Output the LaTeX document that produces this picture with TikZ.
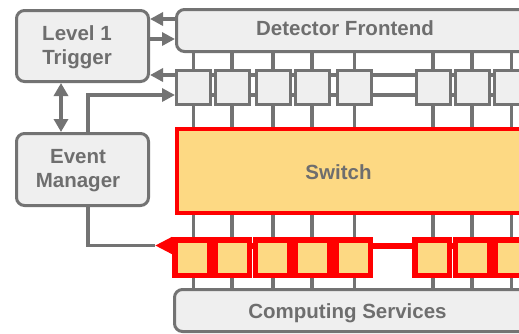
\documentclass[tikz,border=0pt]{standalone}
\usepackage{fontspec}
\setmainfont{Liberation Sans}
\usetikzlibrary{arrows.meta}
\definecolor{lgray}{HTML}{737373}
\definecolor{boxfill}{HTML}{EFEFEF}
\definecolor{txtgray}{HTML}{6E6E6E}
\definecolor{yfill}{HTML}{FDD983}
\definecolor{pred}{HTML}{FF0000}
\begin{document}
\begin{tikzpicture}[x=1pt,y=-1pt,
  bigbox/.style={draw=lgray, fill=boxfill, line width=3pt, rounded corners=8pt, inner sep=0pt},
  lbl/.style={font=\bfseries\fontsize{20.5}{24}\selectfont, text=txtgray, align=center, inner sep=0pt},
  cell/.style={draw=lgray, fill=boxfill, line width=3pt, minimum size=34pt, inner sep=0pt},
  rcell/.style={draw=pred, fill=yfill, line width=5.5pt, minimum width=34.5pt, minimum height=35.5pt, inner sep=0pt},
  wire/.style={draw=lgray, line width=3.5pt},
  garr/.style={wire, -{Triangle[length=13pt,width=13pt]}},
  gdarr/.style={wire, {Triangle[length=13pt,width=14pt]}-{Triangle[length=13pt,width=14pt]}},
  rbus/.style={draw=pred, line width=6pt},
]
\useasboundingbox (0,0) rectangle (519,333);
\clip (0,0) rectangle (519,333);

% big boxes
\node[bigbox, minimum width=132pt, minimum height=71pt] (l1t) at (82.5,46) {};
\node[lbl] (l1tlbl) at (77,47.5) {Level 1\\Trigger};
\node[bigbox, minimum width=132pt, minimum height=72pt] (em) at (82.5,169.5) {};
\node[lbl] (emlbl) at (78,170.5) {Event\\Manager};
\node[bigbox, minimum width=384pt, minimum height=42pt] (df) at (368.5,30.5) {};
\node[lbl] (dflbl) at (345,28.3) {Detector Frontend};
\node[draw=pred, fill=yfill, line width=3.5pt, minimum width=384pt, minimum height=84pt, inner sep=0pt] (sw) at (369,171) {};
\node[lbl] (swlbl) at (338.5,172.5) {Switch};
\node[bigbox, minimum width=384pt, minimum height=42pt] (cs) at (366.5,310.5) {};
\node[lbl] (cslbl) at (347.5,313.5) {Computing Services};

% helper coordinates
\coordinate (busA) at (540,75);
\coordinate (busB) at (540,95);
\coordinate (emx) at (88,0);
\coordinate (dbx) at (61,0);
\coordinate (ya) at (0,19);
\coordinate (yb) at (0,39);
\coordinate (rbus) at (540,245.5);
\coordinate (rtip) at (155,245.5);

% buses (behind cells)
\draw[garr, line width=4pt] (busA) -- (busA -| l1t.east);
\draw[wire, line width=4pt] (busB) -- (busB -| df.west);
\draw[wire] (em.south -| emx) |- (rtip);
\draw[rbus, -{Triangle[length=17pt,width=16pt]}] (rbus) -- (rtip);

% cells
\foreach \i/\gx/\rx in {1/193.5/192, 2/232/232, 3/273/272.5, 4/312/312.5, 5/354.5/353, 6/433/432, 7/472/472.5, 8/511.5/512.5} {
  \node[cell] (g\i) at (\gx,87.5) {};
  \node[rcell] (r\i) at (\rx,257.5) {};
}

% vertical wires
\foreach \i in {1,...,8} {
  \draw[wire] (g\i.north) -- (g\i.north |- df.south);
  \draw[wire] (g\i.south) -- (g\i.south |- sw.north);
  \draw[wire] (g\i |- sw.south) -- (g\i |- r\i.north);
  \draw[wire] (g\i |- r\i.south) -- (g\i |- cs.north);
}

% arrows to / from the trigger and manager
\draw[garr] (ya -| df.west) -- (ya -| l1t.east);
\draw[garr] (yb -| l1t.east) -- (yb -| df.west);
\draw[garr] (em.north -| emx) |- (busB -| g1.west);
\draw[gdarr] (l1t.south -| dbx) -- (em.north -| dbx);
\end{tikzpicture}
\end{document}
